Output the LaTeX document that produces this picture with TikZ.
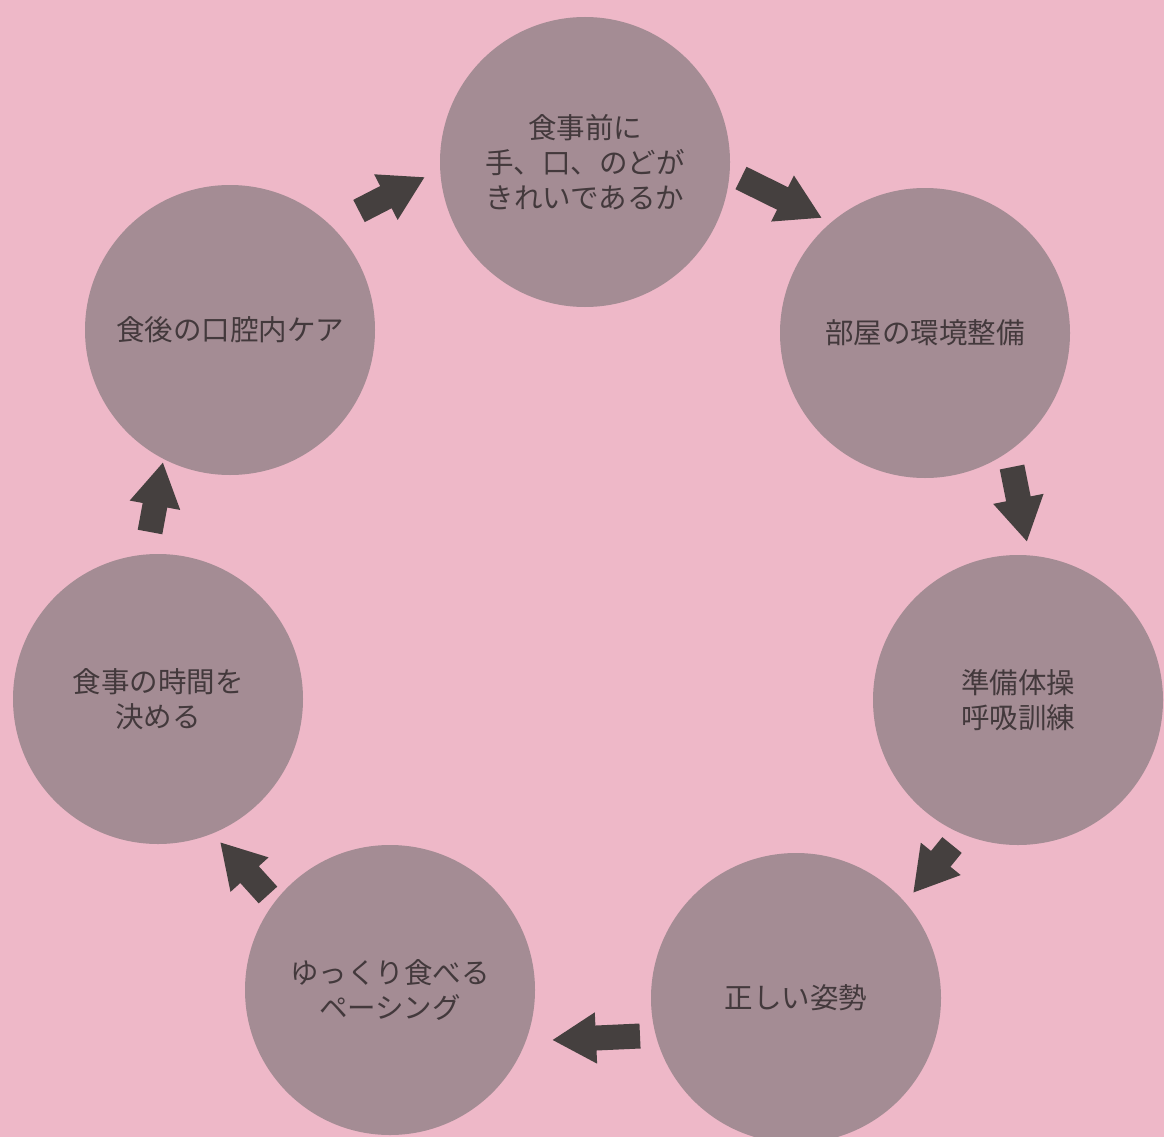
\documentclass[tikz,border=0pt]{standalone}
\usepackage{fontspec}
\newfontfamily\jpfont{Noto Sans CJK JP}
\usetikzlibrary{arrows.meta,calc}
\definecolor{bgpink}{HTML}{EEB8C8}
\definecolor{circfill}{HTML}{A48C94}
\definecolor{txtdark}{HTML}{43393C}
\definecolor{arrowdark}{HTML}{45403F}
\begin{document}
\begin{tikzpicture}[x=1pt,y=-1pt,
  stage/.style={circle,fill=circfill,minimum size=290pt,inner sep=0pt,
    text=txtdark,font=\jpfont\fontsize{28.5}{35}\selectfont,align=center},
  flow/.style={draw=arrowdark,line width=25pt,
    -{Triangle[width=48pt,length=44pt]}}]
\useasboundingbox (0,0) rectangle (1164,1137);
\clip (0,0) rectangle (1164,1137);
\fill[bgpink] (0,0) rectangle (1164,1137);

\node[stage] (c1) at (585,162) {食事前に\\手、口、のどが\\きれいであるか};
\node[stage] (c2) at (925,333) {部屋の環境整備};
\node[stage] (c3) at (1018,700) {準備体操\\呼吸訓練};
\node[stage] (c4) at (796,998) {正しい姿勢};
\node[stage] (c5) at (390,990) {ゆっくり食べる\\ペーシング};
\node[stage] (c6) at (158,699) {食事の時間を\\決める};
\node[stage] (c7) at (230,330) {食後の口腔内ケア};

\draw[flow] ($(c7)+(129,-119)$) -- ($(c1)+(-160,15)$);
\draw[flow] ($(c1)+(156,16)$) -- ($(c2)+(-103,-115)$);
\draw[flow] ($(c2)+(87,134)$) -- ($(c3)+(9,-158)$);
\draw[flow] ($(c3)+(-66,145)$) -- ($(c4)+(117,-105)$);
\draw[flow] ($(c4)+(-156,38)$) -- ($(c5)+(162,50)$);
\draw[flow] ($(c5)+(-122,-95)$) -- ($(c6)+(62,143)$);
\draw[flow] ($(c6)+(-8,-167)$) -- ($(c7)+(-67,132)$);
\end{tikzpicture}
\end{document}
